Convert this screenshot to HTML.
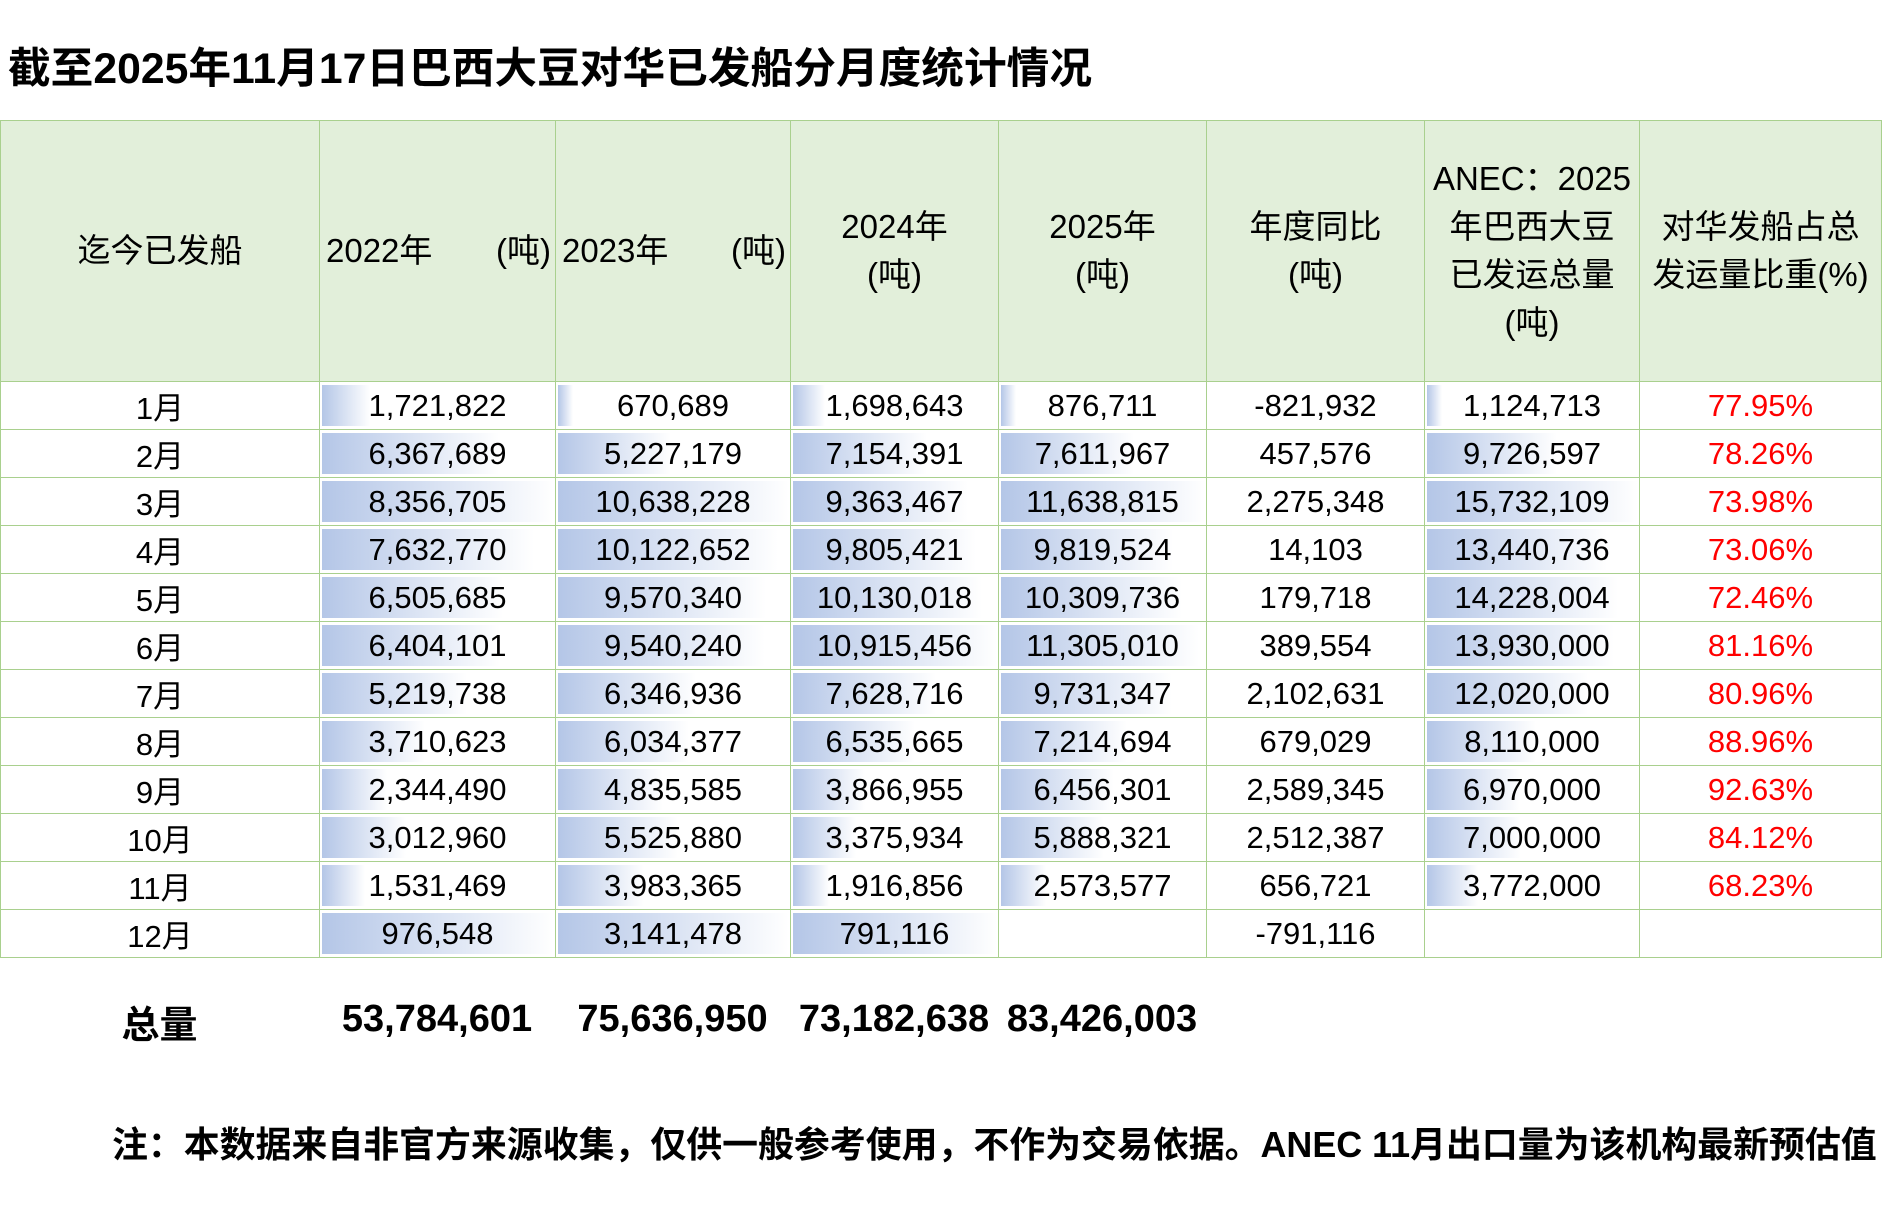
<!DOCTYPE html>
<html><head><meta charset="utf-8"><style>
body{margin:0;width:1883px;height:1207px;background:#fff;position:relative;overflow:hidden;font-family:"Liberation Sans","Noto Sans CJK SC",sans-serif;color:#000}
.title{position:absolute;left:8px;top:34px;font-size:42.7px;font-weight:bold;white-space:nowrap}
table{position:absolute;left:0;top:120px;border-collapse:collapse;table-layout:fixed}
td{border:1.5px solid #a9d08e;padding:0;text-align:center;font-size:31px;height:47px;background-repeat:no-repeat;white-space:nowrap;overflow:hidden}
tr.h td{background:#e2efda;height:260px;line-height:48px;font-size:33px}
.sp{display:flex;justify-content:space-between;padding:0 4px 0 6px}
.r{color:#ff0000}
.tot{position:absolute;top:998px;font-size:38px;font-weight:bold;text-align:center}
.note{position:absolute;left:112px;top:1116px;font-size:35.9px;font-weight:bold;white-space:nowrap}
</style></head><body>
<div class="title">截至2025年11月17日巴西大豆对华已发船分月度统计情况</div>
<table>
<colgroup><col style="width:319px"><col style="width:236px"><col style="width:235px"><col style="width:208px"><col style="width:208px"><col style="width:218px"><col style="width:215px"><col style="width:242px"></colgroup>
<tr class="h"><td>迄今已发船</td><td><div class="sp"><span>2022年</span><span>(吨)</span></div></td><td><div class="sp"><span>2023年</span><span>(吨)</span></div></td><td>2024年<br>(吨)</td><td>2025年<br>(吨)</td><td>年度同比<br>(吨)</td><td>ANEC：2025<br>年巴西大豆<br>已发运总量<br>(吨)</td><td>对华发船占总<br>发运量比重(%)</td></tr>
</table>
<script>
var d=[["1月","1,721,822",48,"670,689",15,"1,698,643",32,"876,711",15,"-821,932","1,124,713",15,"77.95%"],
["2月","6,367,689",177,"5,227,179",113,"7,154,391",134,"7,611,967",133,"457,576","9,726,597",130,"78.26%"],
["3月","8,356,705",232,"10,638,228",231,"9,363,467",175,"11,638,815",204,"2,275,348","15,732,109",211,"73.98%"],
["4月","7,632,770",212,"10,122,652",220,"9,805,421",183,"9,819,524",172,"14,103","13,440,736",180,"73.06%"],
["5月","6,505,685",181,"9,570,340",208,"10,130,018",189,"10,309,736",181,"179,718","14,228,004",191,"72.46%"],
["6月","6,404,101",178,"9,540,240",207,"10,915,456",204,"11,305,010",198,"389,554","13,930,000",187,"81.16%"],
["7月","5,219,738",145,"6,346,936",138,"7,628,716",143,"9,731,347",171,"2,102,631","12,020,000",161,"80.96%"],
["8月","3,710,623",103,"6,034,377",131,"6,535,665",122,"7,214,694",126,"679,029","8,110,000",109,"88.96%"],
["9月","2,344,490",65,"4,835,585",105,"3,866,955",72,"6,456,301",113,"2,589,345","6,970,000",93,"92.63%"],
["10月","3,012,960",84,"5,525,880",120,"3,375,934",63,"5,888,321",103,"2,512,387","7,000,000",94,"84.12%"],
["11月","1,531,469",43,"3,983,365",86,"1,916,856",36,"2,573,577",45,"656,721","3,772,000",51,"68.23%"],
["12月","976,548",232,"3,141,478",231,"791,116",204,"",0,"-791,116","",0,""]];
var t=document.querySelector("table"),h="";
function b(v,w){return w?' style="background-image:linear-gradient(to right,#b4c6e7,#fff);background-size:'+w+'px 41px;background-position:2px 3px"':'';}
d.forEach(function(r){h+="<tr><td>"+r[0]+"</td><td"+b(r[1],r[2])+">"+r[1]+"</td><td"+b(r[3],r[4])+">"+r[3]+"</td><td"+b(r[5],r[6])+">"+r[5]+"</td><td"+b(r[7],r[8])+">"+r[7]+"</td><td>"+r[9]+"</td><td"+b(r[10],r[11])+">"+r[10]+"</td><td class='r'>"+r[12]+"</td></tr>";});
t.insertAdjacentHTML("beforeend",h);
</script>
<div class="tot" style="left:0;width:319px;top:994px">总量</div>
<div class="tot" style="left:319px;width:236px">53,784,601</div>
<div class="tot" style="left:555px;width:235px">75,636,950</div>
<div class="tot" style="left:790px;width:208px">73,182,638</div>
<div class="tot" style="left:998px;width:208px">83,426,003</div>
<div class="note">注：本数据来自非官方来源收集，仅供一般参考使用，不作为交易依据。ANEC 11月出口量为该机构最新预估值</div>
</body></html>
